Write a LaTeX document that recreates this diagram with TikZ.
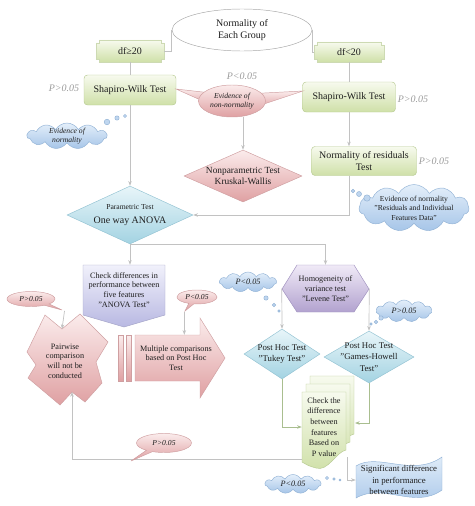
\documentclass[tikz,border=0pt]{standalone}
\usepackage{fontspec}
\setmainfont{Liberation Serif}
\usetikzlibrary{arrows.meta,positioning,calc,shapes.geometric,shapes.symbols,shapes.callouts}

\newdimen\pxu \pxu=0.03cm
\definecolor{inkdark}{HTML}{1E1E1E}
\definecolor{pgray}{HTML}{9A9A9A}
\definecolor{linegray}{HTML}{C2C2C2}
\definecolor{greenline}{HTML}{A9BE8F}
\definecolor{ovaledge}{HTML}{A8A8A8}
\definecolor{greentop}{HTML}{F7FAEE}
\definecolor{greenbot}{HTML}{CFE0A8}
\definecolor{greenedge}{HTML}{B7CA92}
\definecolor{pinktop}{HTML}{FBECEC}
\definecolor{pinkbot}{HTML}{DFA0A2}
\definecolor{pinkedge}{HTML}{CF9FA1}
\definecolor{bluetop}{HTML}{E8F5F9}
\definecolor{bluebot}{HTML}{A3D3E2}
\definecolor{blueedge}{HTML}{93C3D3}
\definecolor{lavtop}{HTML}{F1F1FB}
\definecolor{lavbot}{HTML}{B8B8E2}
\definecolor{lavedge}{HTML}{A5A5C8}
\definecolor{purpletop}{HTML}{F0EAF7}
\definecolor{purplebot}{HTML}{B2A2CF}
\definecolor{purpleedge}{HTML}{9F90BE}
\definecolor{cloudtop}{HTML}{E4EFFA}
\definecolor{cloudbot}{HTML}{A6C5E8}
\definecolor{cloudedge}{HTML}{93B3D6}

% notched green box
\newcommand{\plaque}[4]{%
  \path[plaquefill] (#1-#3,#2-#4+3) -- (#1-#3+3,#2-#4+3) -- (#1-#3+3,#2-#4)
    -- (#1+#3-3,#2-#4) -- (#1+#3-3,#2-#4+3) -- (#1+#3,#2-#4+3)
    -- (#1+#3,#2+#4-3) -- (#1+#3-3,#2+#4-3) -- (#1+#3-3,#2+#4)
    -- (#1-#3+3,#2+#4) -- (#1-#3+3,#2+#4-3) -- (#1-#3,#2+#4-3) -- cycle;}
% one sheet of the stacked documents
\newcommand{\docpage}[2]{%
  \path[docfill] (#1,#2) -- (#1+44,#2) -- (#1+44,#2+58)
    .. controls (#1+34,#2+60) and (#1+26,#2+80) .. (#1+14,#2+76)
    .. controls (#1+7,#2+74) .. (#1,#2+70) -- cycle;}

\begin{document}
\begin{tikzpicture}[x=0.03cm,y=-0.03cm,>={Stealth[length=4pt,width=3pt]},
  conn/.style={draw=linegray,line width=0.6pt},
  greenconn/.style={draw=greenline,line width=0.6pt},
  txt/.style={align=center,inner sep=0pt,text=inkdark},
  f9/.style={font=\fontsize{8.5}{10}\selectfont},
  f8/.style={font=\fontsize{7.5}{9.6}\selectfont},
  f7/.style={font=\fontsize{7}{8.3}\selectfont},
  f6/.style={font=\fontsize{6.5}{7.8}\selectfont\itshape},
  pval/.style={txt,text=pgray,font=\fontsize{8.5}{10}\selectfont\itshape},
  oval/.style={ellipse,draw=ovaledge,fill=white,txt,f9},
  greenbox/.style={rectangle,rounded corners=3pt,draw=greenedge,top color=greentop,bottom color=greenbot,txt,f9},
  plaquefill/.style={top color=greentop,bottom color=greenbot,draw=greenedge!70},
  docfill/.style={top color=greentop,bottom color=greenbot,draw=greenedge},
  bluediam/.style={diamond,draw=blueedge,top color=bluetop,bottom color=bluebot,inner sep=0pt},
  pinkdiam/.style={diamond,draw=pinkedge,top color=pinktop,bottom color=pinkbot,inner sep=0pt},
  pinkfill/.style={draw=pinkedge,top color=pinktop,bottom color=pinkbot},
  pinkoval/.style={ellipse,pinkfill,txt,f6},
  pinkcall/.style={ellipse callout,pinkfill,txt,f6},
  lavfill/.style={draw=lavedge,top color=lavtop,bottom color=lavbot},
  purplefill/.style={draw=purpleedge,top color=purpletop,bottom color=purplebot},
  flagfill/.style={draw=cloudedge,top color=cloudtop,bottom color=cloudbot},
  cloudy/.style={cloud,cloud puffs=11,cloud puff arc=120,draw=cloudedge,top color=cloudtop,bottom color=cloudbot,inner sep=0pt},
  bubble/.style={draw=cloudedge,fill=cloudbot!60!cloudtop}]
\useasboundingbox (0,0) rectangle (474,506);

% top of the chart
\node[oval,minimum width=140\pxu,minimum height=42\pxu] (group) at (242,30) {Normality of\\Each Group};
\plaque{130}{51}{34}{11}
\node[txt,f9,minimum width=68\pxu,minimum height=22\pxu] (dfge) at (130,51) {df≥20};
\plaque{349}{52}{35}{10}
\node[txt,f9,minimum width=70\pxu,minimum height=20\pxu] (dflt) at (349,52) {df<20};
\draw[conn] (group.west) |- (dfge.east);
\draw[conn] (group.east) |- (dflt.west);

\node[greenbox,minimum width=92\pxu,minimum height=30\pxu] (swL) at (130,90) {Shapiro-Wilk Test};
\node[greenbox,minimum width=93\pxu,minimum height=30\pxu] (swR) at (349,97) {Shapiro-Wilk Test};
\draw[conn] (dfge.south) -- (swL.north);
\draw[conn] (dflt.south) -- (swR.north);
\node[pval] (pL) at (64,88) {P>0.05};
\node[pval] (pN) at (242,76) {P<0.05};
\node[pval] (pR) at (413,99) {P>0.05};

% non-normality branch
\path[pinkfill] (220,94) -- (176,89) -- (214,106) -- cycle;
\path[pinkfill] (245,94) -- (303,91) -- (252,108) -- cycle;
\node[pinkoval,minimum width=67\pxu,minimum height=32\pxu] (nonnorm) at (232,101) {Evidence of\\non-normality};
\node[pinkdiam,minimum width=118\pxu,minimum height=52\pxu] (kw) at (243,176) {};
\node[txt,font=\fontsize{8}{9.5}\selectfont] (kwtext) at (kw.center) {Nonparametric Test\\Kruskal-Wallis};
\draw[conn,->] (kw.north |- nonnorm.south) -- (kw.north);

% normality, left
\node[cloudy,minimum width=80\pxu,minimum height=26\pxu] (cloudN) at (67,136) {};
\node[txt,f6] (cloudNtext) at (cloudN.center) {Evidence of\\normality};
\path[bubble] (107,122) circle[radius=2.8] (117,118) circle[radius=2.2] (125,116) circle[radius=1.6];

\node[bluediam,minimum width=126\pxu,minimum height=58\pxu] (anova) at (130,215) {};
\node[txt] (anovatext) at (anova.center) {{\fontsize{6.5}{8}\selectfont Parametric Test}\\{\fontsize{8.5}{10}\selectfont One way ANOVA}};
\draw[conn,->] (swL.south) -- (anova.north);

% normality, right
\node[greenbox,minimum width=105\pxu,minimum height=29\pxu] (resid) at (364,161) {Normality of residuals\\Test};
\node[pval] (pRes) at (434,161) {P>0.05};
\draw[conn,->] (swR.south) -- (swR.south |- resid.north);
\draw[conn,->] (swR.south |- resid.south) |- (anova.east);
\node[cloudy,minimum width=110\pxu,minimum height=47\pxu] (cloudRes) at (414,208) {};
\node[txt,f6,font=\fontsize{6.5}{8}\selectfont] (cloudRestext) at (cloudRes.center) {Evidence of normality\\"Residuals and Individual\\Features Data"};
\path[bubble] (353,191) circle[radius=1.8] (359,194) circle[radius=2.5] (367,198) circle[radius=3.2];

% ANOVA test and variance test
\path[lavfill] (83,265) -- (165,265) -- (165,315) -- (124,327) -- (83,315) -- cycle;
\node[txt,f7,minimum width=82\pxu,minimum height=50\pxu] (check) at (124,290) {Check differences in\\performance between\\five features\\"ANOVA Test"};
\draw[conn,->] (anova.south) -- (anova.south |- check.north);

\path[purplefill] (282,289) -- (297,265) -- (354,265) -- (369,289) -- (354,312) -- (297,312) -- cycle;
\node[txt,f7,font=\fontsize{7}{8.6}\selectfont,minimum width=87\pxu,minimum height=47\pxu] (levene) at (325.5,288.5) {Homogeneity of\\variance test\\"Levene Test"};
\draw[conn,->] (anova.south) -| (levene.north);

\node[cloudy,minimum width=57\pxu,minimum height=20\pxu] (cloudLt) at (248,282) {};
\node[txt,f6,font=\fontsize{7}{8}\selectfont\itshape] (cloudLttext) at (cloudLt.center) {P<0.05};
\path[bubble] (266,298) circle[radius=2.2] (274,305) circle[radius=1.7] (279,311) circle[radius=1.3];
\node[cloudy,minimum width=56\pxu,minimum height=22\pxu] (cloudGt) at (404,311) {};
\node[txt,f6,font=\fontsize{7}{8}\selectfont\itshape] (cloudGttext) at (cloudGt.center) {P>0.05};
\path[bubble] (381,318) circle[radius=2.2] (376,322) circle[radius=1.7] (371,324) circle[radius=1.3];

% post hoc tests
\node[bluediam,minimum width=76\pxu,minimum height=50\pxu] (tukey) at (282,354) {};
\node[txt,f8] (tukeytext) at (tukey.center) {Post Hoc Test\\"Tukey Test"};
\node[bluediam,minimum width=90\pxu,minimum height=52\pxu] (gh) at (369,357) {};
\node[txt,f8] (ghtext) at (gh.center) {Post Hoc Test\\"Games-Howell\\Test"};
\draw[conn,->] (levene.west) -- (tukey.north);
\draw[conn,->] (levene.east) -- (gh.north);

% stacked documents
\docpage{310}{376}
\docpage{306}{384}
\docpage{302}{392}
\node[txt,font=\fontsize{7}{9}\selectfont,minimum width=44\pxu,minimum height=70\pxu] (doc) at (324,427) {Check the\\difference\\between\\features\\Based on\\P value};
\coordinate (docback) at (355,423);
\coordinate (docfoot) at (347,457);
\coordinate (doctail) at (302,459);
\draw[greenconn,->] (tukey.south) |- (doc.west);
\draw[greenconn,->] (gh.south) |- (docback);

% significant difference
\path[flagfill] (356,466) .. controls (378,452) and (412,478) .. (442,457) -- (442,490)
  .. controls (414,510) and (384,482) .. (356,498) -- cycle;
\node[txt,f8,minimum width=86\pxu,minimum height=32\pxu] (sig) at (399,480) {Significant difference\\in performance\\between features};
\draw[conn,->] (docfoot) |- (sig.west);
\node[cloudy,minimum width=56\pxu,minimum height=19\pxu] (cloudSig) at (293,484) {};
\node[txt,font=\fontsize{7}{8}\selectfont\itshape] (cloudSigtext) at (cloudSig.center) {P<0.05};
\path[bubble] (327,478) circle[radius=1.6] (334,479) circle[radius=1.3] (340,480) circle[radius=1];

% outcomes of the ANOVA test
\path[pinkfill] (27,352) -- (45,315) -- (62,329) -- (80,314) -- (108,342) -- (96,362) -- (102,383)
  -- (85,402) -- (72,392) -- (60,405) -- (28,378) -- (36,365) -- cycle;
\node[txt,f7,minimum width=70\pxu,minimum height=40\pxu] (pair) at (65,361) {Pairwise\\comparison\\will not be\\conducted};
\coordinate (pairtop) at (62,329);
\coordinate (pairfoot) at (72,392);

\path[pinkfill] (118,335) rectangle (123,381);
\path[pinkfill] (126,335) rectangle (131,381);
\path[pinkfill] (135,335) -- (200,335) -- (200,318) -- (225,358) -- (200,398) -- (200,381) -- (135,381) -- cycle;
\node[txt,f7,minimum width=84\pxu,minimum height=46\pxu] (multi) at (176,358) {Multiple comparisons\\based on Post Hoc\\Test};

\node[pinkcall,minimum width=48\pxu,minimum height=15\pxu,callout absolute pointer={(62,310)}] (pgtL) at (31,299) {P>0.05};
\node[pinkcall,minimum width=40\pxu,minimum height=14\pxu,callout absolute pointer={(185,311)}] (pltR) at (197,297) {P<0.05};
\draw[conn,->] (pgtL.pointer) -- (pairtop);
\draw[conn,->] (pltR.pointer) -- (pltR.pointer |- multi.north);

\draw[conn,->] (doctail) -| (pairfoot);
\node[pinkcall,minimum width=55\pxu,minimum height=19\pxu,callout absolute pointer={(131,461)}] (pgtB) at (164,443) {P>0.05};
\end{tikzpicture}
\end{document}
